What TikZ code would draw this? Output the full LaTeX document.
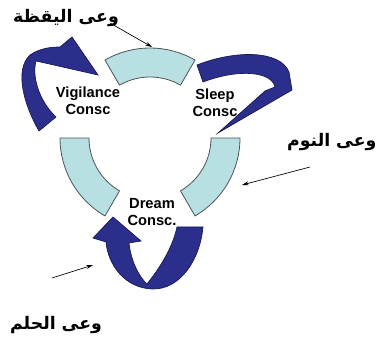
\documentclass[tikz,border=0pt]{standalone}
\usepackage{fontspec}
\usepackage{tikz}
\usetikzlibrary{arrows.meta}
\TeXXeTstate=1
\newfontfamily\arabicfont[Script=Arabic]{DejaVu Sans}
\newfontfamily\labelfont{Liberation Sans}
\definecolor{paleCyan}{RGB}{184,223,226}
\definecolor{darkGray}{RGB}{75,85,88}
\definecolor{navyBlue}{RGB}{44,46,140}
\definecolor{navyEdge}{RGB}{22,24,80}

\begin{document}
\begin{tikzpicture}[x=0.75pt, y=-0.75pt,
  segment/.style={fill=paleCyan, draw=darkGray, line width=0.6pt},
  loopArrow/.style={fill=navyBlue, draw=navyEdge, line width=0.5pt},
  state/.style={font=\labelfont\bfseries\fontsize{11}{12.5}\selectfont, align=center},
  arabic/.style={font=\arabicfont\bfseries\fontsize{13}{15}\selectfont},
  pointer/.style={-{Stealth[length=5pt,width=3pt]}, line width=0.5pt},
]
  \useasboundingbox (0,0) rectangle (378,341);
  \coordinate (c) at (150,138);

  % ring segments
  \foreach \a in {-120,0,120}
    \draw[segment] ([shift={(c)}]\a:90) arc[start angle=\a, delta angle=60, radius=90]
      -- ([shift={(c)}]\a+60:61) arc[start angle=\a+60, delta angle=-60, radius=61] -- cycle;

  % curved arrows
  \draw[loopArrow] (39,131) .. controls (24,105) and (14,70) .. (30,55)
    .. controls (40,48) and (52,47) .. (60,47) -- (72,37) -- (98,75) -- (45,63) -- (36,61)
    .. controls (32,75) and (38,100) .. (56,117) -- cycle;
  \draw[loopArrow] (197,65) .. controls (235,50) and (280,50) .. (289,72) -- (292,90)
    -- (218,133) -- (265,91) -- (275,87)
    .. controls (272,72) and (240,68) .. (203,82) -- cycle;
  \draw[loopArrow] (203,227) .. controls (200,260) and (180,290) .. (152,289)
    .. controls (125,288) and (108,265) .. (106,242) -- (93,238) -- (113,217)
    -- (141,241) -- (129,243) .. controls (131,262) and (140,278) .. (147,284)
    .. controls (158,270) and (172,250) .. (177,227) -- cycle;

  \node[state] (vig) at (88,101) {Vigilance\\Consc};
  \node[state] (slp) at (215,103) {Sleep\\Consc};
  \node[state] (drm) at (152,212) {Dream\\Consc.};

  \node[arabic] (vigName) at (66,18) {\beginR وعى اليقظة\endR};
  \node[arabic, anchor=east, inner xsep=1pt] (slpName) at (378,142) {\beginR وعى النوم\endR};
  \node[arabic] (drmName) at (56,325) {\beginR وعى الحلم\endR};

  % pointers
  \coordinate (vigFrom) at (110,23);
  \coordinate (vigTo) at (152,47);
  \coordinate (slpFrom) at (310,167);
  \coordinate (slpTo) at (242,185);
  \coordinate (drmFrom) at (52,278);
  \coordinate (drmTo) at (93,265);
  \draw[pointer] (vigFrom) -- (vigTo);
  \draw[pointer] (slpFrom) -- (slpTo);
  \draw[pointer] (drmFrom) -- (drmTo);
\end{tikzpicture}
\end{document}
